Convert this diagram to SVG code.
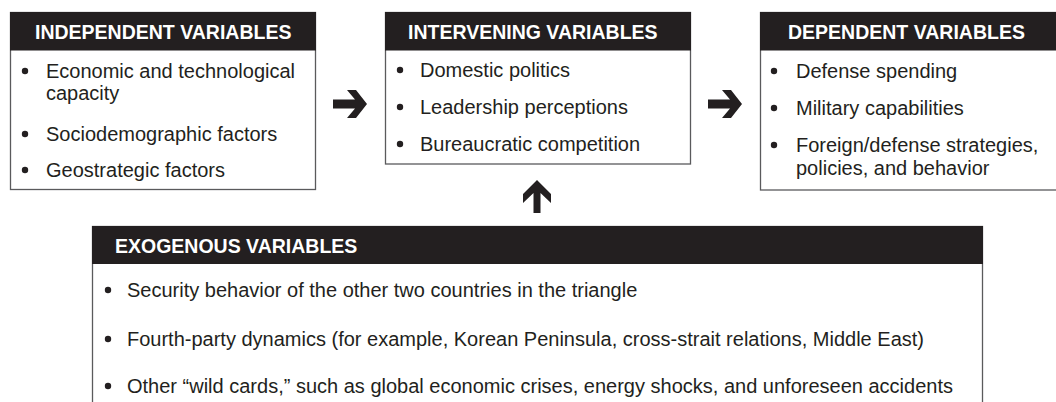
<svg xmlns="http://www.w3.org/2000/svg" width="1056" height="402" viewBox="0 0 1056 402">
  <style>
    .box { fill: #ffffff; stroke: #5a5a5c; stroke-width: 1.3; }
    .head { fill: #231f20; }
    .title { font-family: "Liberation Sans", Arial, sans-serif; font-weight: bold; font-size: 19.5px; fill: #ffffff; }
    .item { font-family: "Liberation Sans", Arial, sans-serif; font-size: 20px; fill: #231f20; }
    .dot { fill: #231f20; }
    .arrow { fill: #231f20; }
  </style>
  <rect width="1056" height="402" fill="#ffffff"/>

  <!-- Independent variables -->
  <g id="independent">
    <rect class="box" x="10.5" y="12.5" width="305" height="177"/>
    <rect class="head" x="10" y="12" width="306" height="38.5"/>
    <text class="title" x="35" y="39">INDEPENDENT VARIABLES</text>
    <circle class="dot" cx="25" cy="71" r="3.2"/>
    <text class="item" x="46" y="78">Economic and technological</text>
    <text class="item" x="46" y="100">capacity</text>
    <circle class="dot" cx="25" cy="134" r="3.2"/>
    <text class="item" x="46" y="141">Sociodemographic factors</text>
    <circle class="dot" cx="25" cy="170" r="3.2"/>
    <text class="item" x="46" y="177">Geostrategic factors</text>
  </g>

  <!-- Intervening variables -->
  <g id="intervening">
    <rect class="box" x="385.5" y="12.5" width="305" height="151.5"/>
    <rect class="head" x="385" y="12" width="306" height="38.5"/>
    <text class="title" x="408" y="39">INTERVENING VARIABLES</text>
    <circle class="dot" cx="400" cy="70" r="3.2"/>
    <text class="item" x="420" y="77">Domestic politics</text>
    <circle class="dot" cx="400" cy="107" r="3.2"/>
    <text class="item" x="420" y="114">Leadership perceptions</text>
    <circle class="dot" cx="400" cy="144" r="3.2"/>
    <text class="item" x="420" y="151">Bureaucratic competition</text>
  </g>

  <!-- Dependent variables -->
  <g id="dependent">
    <rect class="box" x="760.5" y="12.5" width="300" height="177.5"/>
    <rect class="head" x="760" y="12" width="300" height="38.5"/>
    <text class="title" x="788" y="39">DEPENDENT VARIABLES</text>
    <circle class="dot" cx="774" cy="71" r="3.2"/>
    <text class="item" x="796" y="78">Defense spending</text>
    <circle class="dot" cx="774" cy="108" r="3.2"/>
    <text class="item" x="796" y="115">Military capabilities</text>
    <circle class="dot" cx="774" cy="145" r="3.2"/>
    <text class="item" x="796" y="152">Foreign/defense strategies,</text>
    <text class="item" x="796" y="175">policies, and behavior</text>
  </g>

  <!-- Exogenous variables -->
  <g id="exogenous">
    <rect class="box" x="92.5" y="226.5" width="890" height="190"/>
    <rect class="head" x="92" y="226" width="891" height="38"/>
    <text class="title" x="115" y="253">EXOGENOUS VARIABLES</text>
    <circle class="dot" cx="108" cy="290" r="3.2"/>
    <text class="item" x="127" y="297">Security behavior of the other two countries in the triangle</text>
    <circle class="dot" cx="108" cy="339" r="3.2"/>
    <text class="item" x="127" y="346">Fourth-party dynamics (for example, Korean Peninsula, cross-strait relations, Middle East)</text>
    <circle class="dot" cx="108" cy="386" r="3.2"/>
    <text class="item" x="127" y="393">Other “wild cards,” such as global economic crises, energy shocks, and unforeseen accidents</text>
  </g>

  <!-- Connectors: bold block arrows between the boxes -->
  <g id="connectors">
    <defs>
      <path id="arrow-right" d="M0,-4.5 H22 L14,-14 H23 L34,0 L23,14 H14 L22,4.5 H0 Z"/>
    </defs>
    <use href="#arrow-right" class="arrow" x="333" y="104"/>
    <use href="#arrow-right" class="arrow" x="708" y="104"/>
    <path class="arrow" d="M537,180 L551,194 V203 L540.5,193 V213 H533.5 V193 L523,203 V194 Z"/>
  </g>
</svg>
